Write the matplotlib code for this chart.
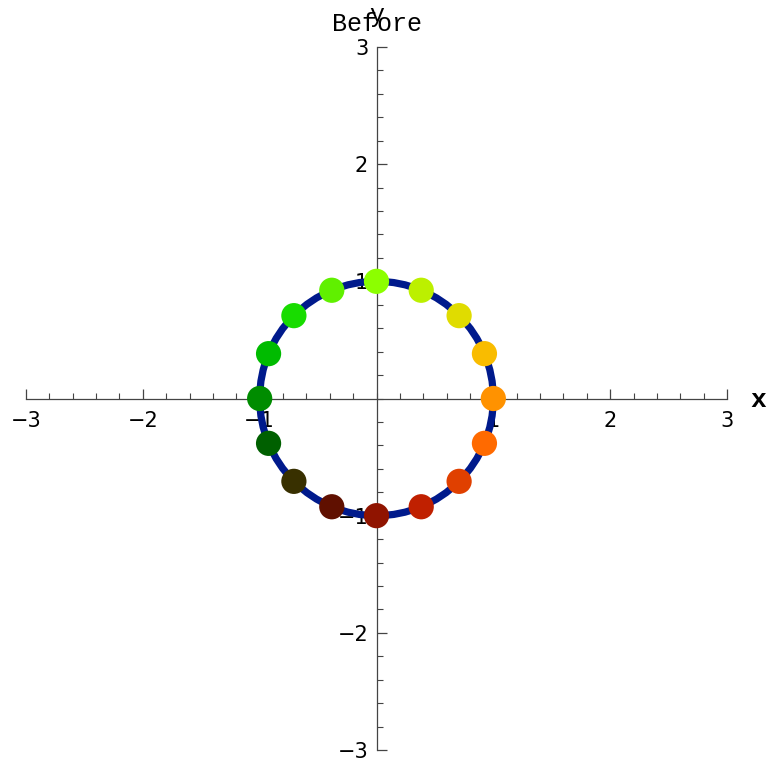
import numpy as np
import matplotlib.pyplot as plt
from matplotlib.ticker import MultipleLocator

# Points on the unit circle, angle in degrees and their fill colours
angles_deg = [0, 22.5, 45, 67.5, 90, 112.5, 135, 157.5,
              180, 202.5, 225, 247.5, 270, 292.5, 315, 337.5]
point_colors = ["#ff9200", "#f9bc00", "#e0dc00", "#bcf000",
                "#8cff00", "#60f000", "#18dc00", "#00bb00",
                "#008c00", "#006000", "#383000", "#601000",
                "#901400", "#c02000", "#e04000", "#ff6a00"]
radius = 1.0
major_ticks = [-3, -2, -1, 1, 2, 3]

W, H = 767, 761
fig = plt.figure(figsize=(W / 100, H / 100), dpi=100)
ax = fig.add_axes([26 / W, 11 / H, 701 / W, 703 / H])
ax.set_xlim(-3, 3)
ax.set_ylim(-3, 3)

# axes through the origin, Mathematica style
for side in ["top", "right"]:
    ax.spines[side].set_visible(False)
ax.spines["left"].set_position(("data", 0))
ax.spines["bottom"].set_position(("data", 0))
for side in ["left", "bottom"]:
    ax.spines[side].set_color("#444444")
    ax.spines[side].set_linewidth(0.9)

ax.set_xticks(major_ticks)
ax.set_yticks(major_ticks)
ax.set_xticklabels([f"{t:d}".replace("-", "\u2212") for t in major_ticks])
ax.set_yticklabels([f"{t:d}".replace("-", "\u2212") for t in major_ticks])
ax.xaxis.set_minor_locator(MultipleLocator(0.2))
ax.yaxis.set_minor_locator(MultipleLocator(0.2))
ax.tick_params(which="major", direction="in", length=7, width=0.9,
               color="#444444", labelsize=15)
ax.tick_params(which="minor", direction="in", length=4, width=0.8,
               color="#444444")
ax.tick_params(axis="x", which="major", pad=9)
ax.tick_params(axis="y", which="major", pad=6)

mono = "Liberation Mono"

# the circle and the coloured points
circ = plt.Circle((0, 0), radius, fill=False, color="#001a8c", lw=5.2, zorder=3)
ax.add_patch(circ)
theta = np.radians(angles_deg)
ax.scatter(radius * np.cos(theta), radius * np.sin(theta), s=330,
           c=point_colors, linewidths=0, zorder=4)

fig.text(377 / W, 1 - 24 / H, "Before", family=mono, fontsize=18,
         ha="center", va="center")
fig.text(377 / W, 1 - 15 / H, "y", family=mono, fontsize=18,
         ha="center", va="center")
fig.text(758 / W, 1 - 400 / H, "x", family=mono, fontsize=19,
         weight="bold", ha="center", va="center")

fig.savefig("out.png", dpi=100)
